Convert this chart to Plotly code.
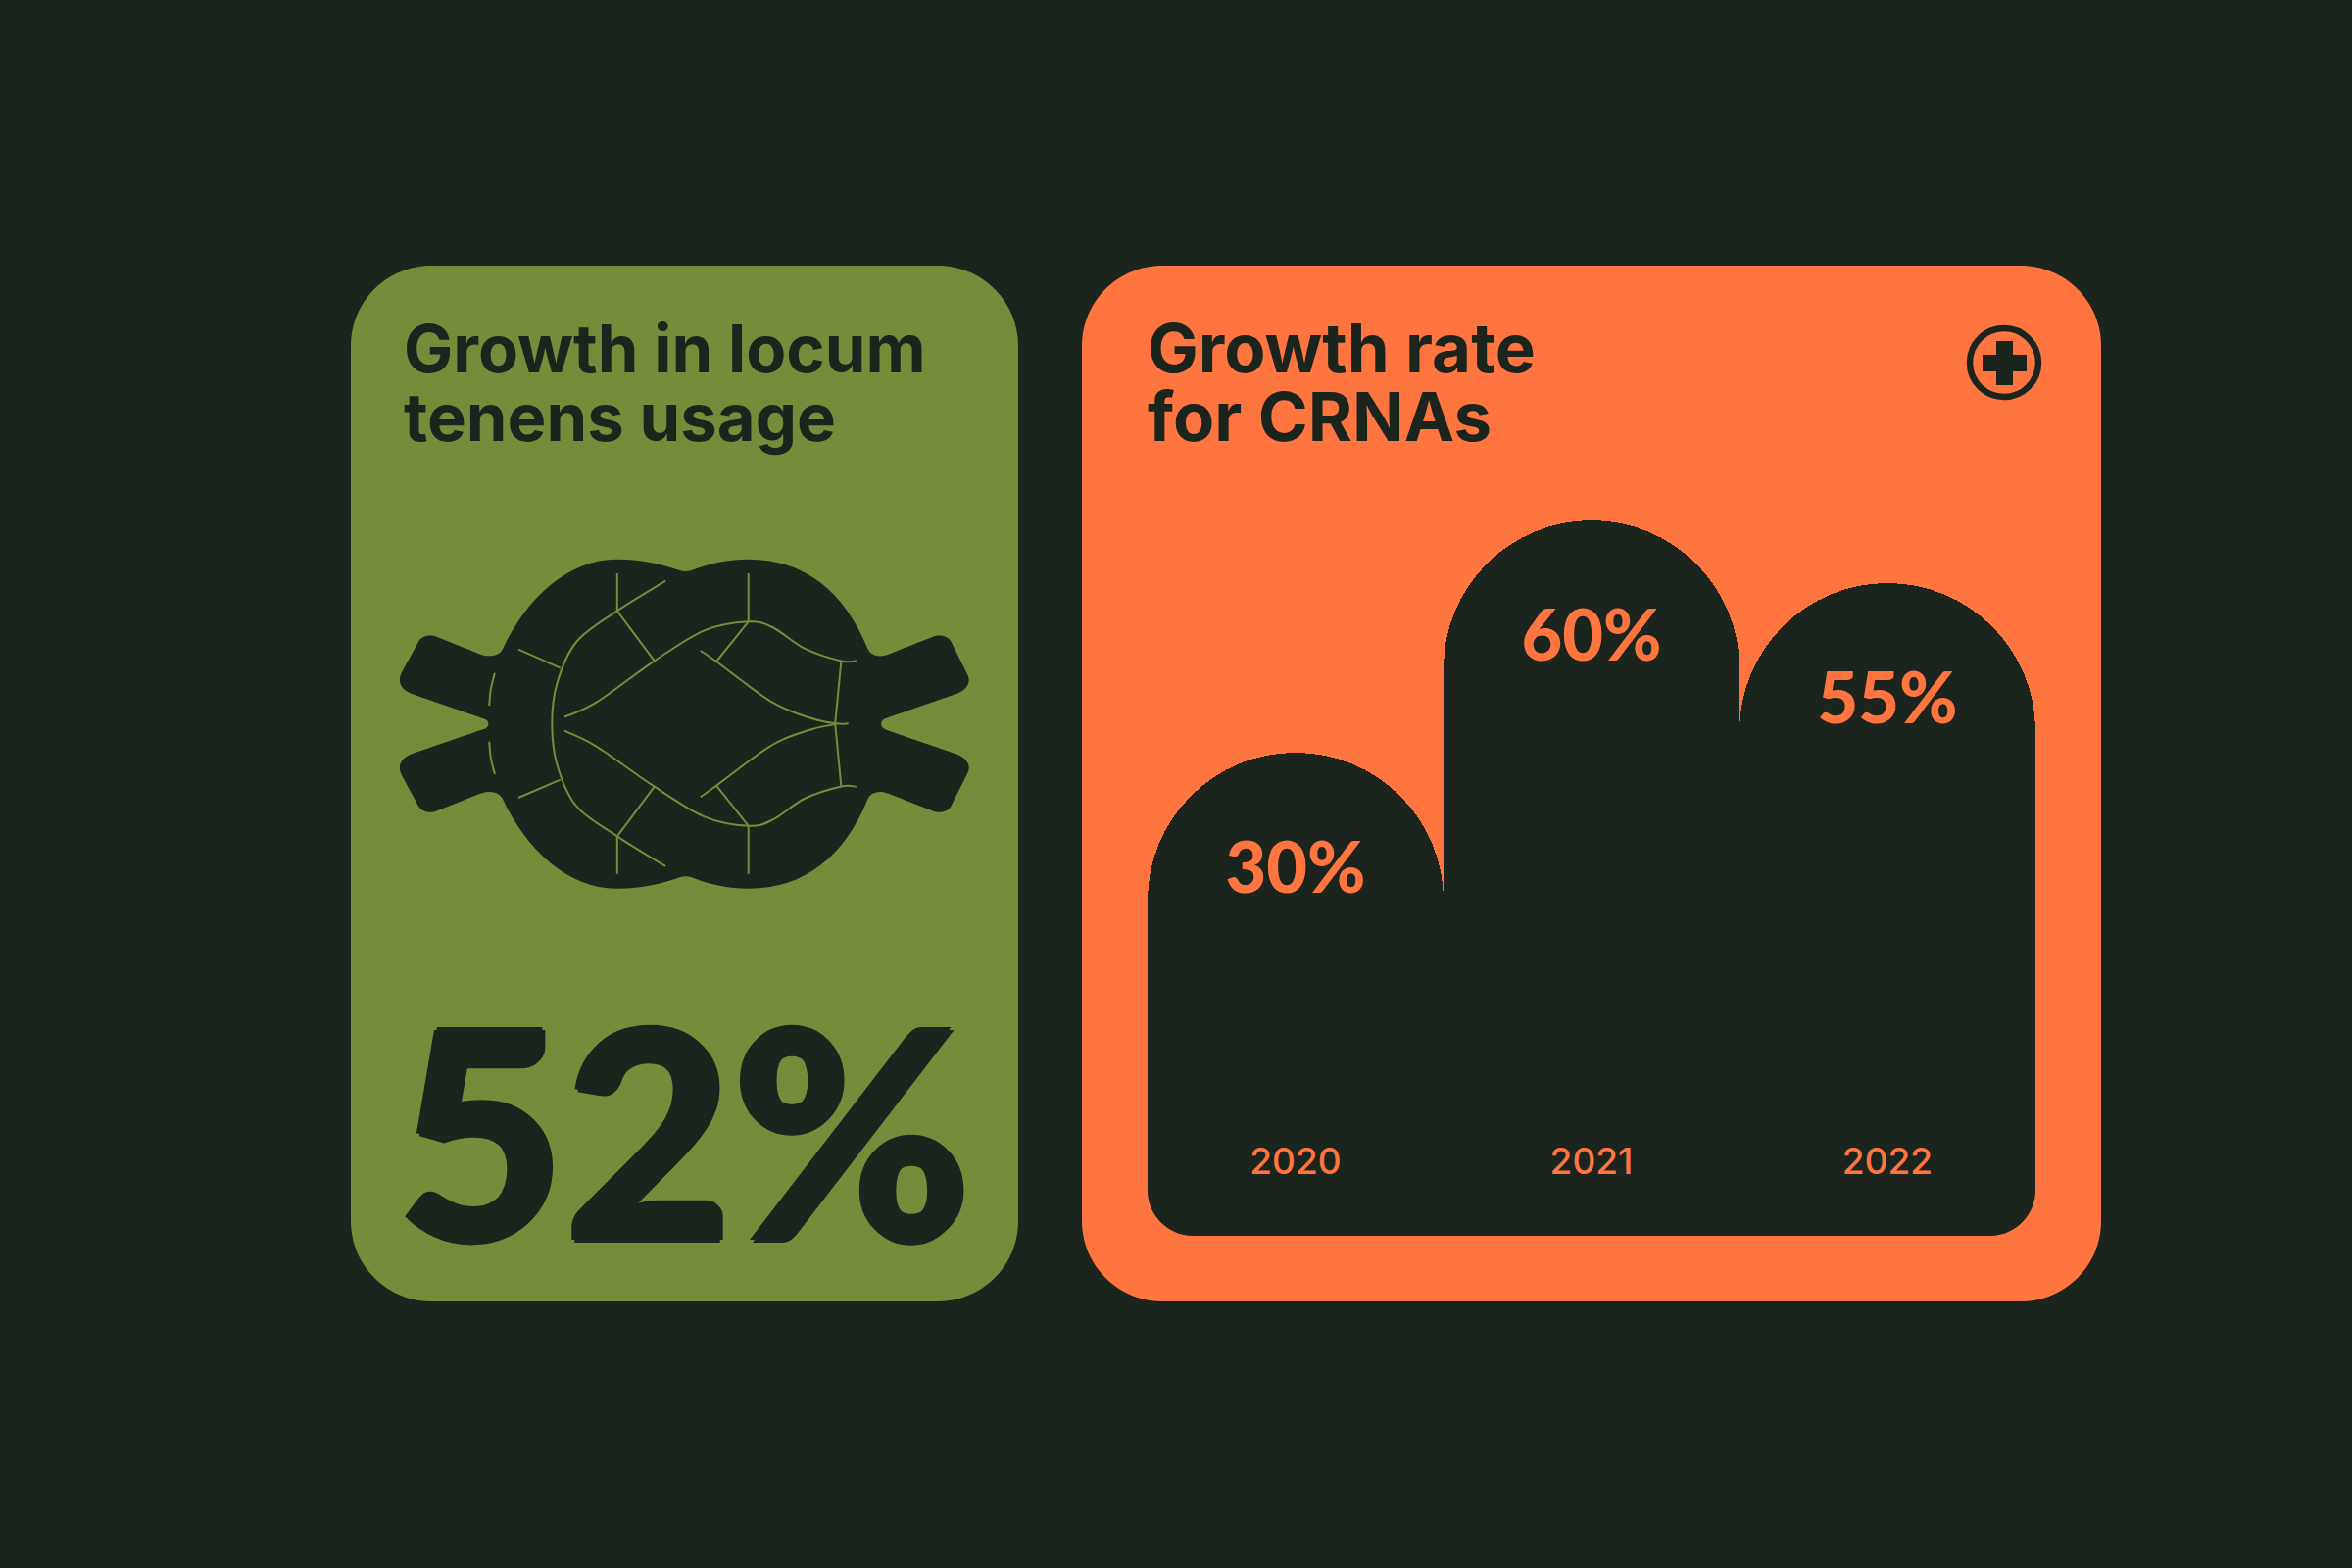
import plotly.graph_objects as go

BG = '#1C251D'
GREEN = '#768C3B'
ORANGE = '#FF7540'
TITLE_FONT = 'Inter'
NUMBER_FONT = 'Lato'

years = ['2020', '2021', '2022']
crna_labels = ['30%', '60%', '55%']
# the domes in the picture are not proportional to their labels, so these are
# the heights as drawn
bar_heights = [493, 730, 666]
locum_growth = '52%'
left_title = ['Growth in locum', 'tenens usage']
right_title = ['Growth rate', 'for CRNAs']

# knot outline and lines were traced on a 640x400 crop at (380,540), 2.45 / 3 scale
def kx(x):
    return 380 + x / 2.45

def ky(y):
    return 540 + y / 3

def smooth(points):
    # catmull-rom through the points, as an svg path
    pts = [(kx(x), ky(y)) for x, y in points]
    n = len(pts)
    path = 'M %.1f,%.1f' % pts[0]
    for i in range(n - 1):
        p0, p1, p2, p3 = pts[max(i - 1, 0)], pts[i], pts[i + 1], pts[min(i + 2, n - 1)]
        c1 = (p1[0] + (p2[0] - p0[0]) / 6, p1[1] + (p2[1] - p0[1]) / 6)
        c2 = (p2[0] - (p3[0] - p1[0]) / 6, p2[1] - (p3[1] - p1[1]) / 6)
        path += ' C %.1f,%.1f %.1f,%.1f %.1f,%.1f' % (c1 + c2 + p2)
    return path

def round_rect(x0, y0, x1, y1, r):
    k = r * 0.448  # control point offset for a circular corner
    return ('M %d,%d H %d C %.1f,%d %d,%.1f %d,%d V %d C %d,%.1f %.1f,%d %d,%d H %d C %.1f,%d %d,%.1f %d,%d V %d C %d,%.1f %.1f,%d %d,%d Z'
            % (x0 + r, y0, x1 - r, x1 - k, y0, x1, y0 + k, x1, y0 + r,
               y1 - r, x1, y1 - k, x1 - k, y1, x1 - r, y1,
               x0 + r, x0 + k, y1, x0, y1 - k, x0, y1 - r,
               y0 + r, x0, y0 + k, x0 + k, y0, x0 + r, y0))

# top half of the knot, left waist to right waist; each step is c1, c2, end.
# the bottom half is the same thing mirrored
knot_start = (290, 596)
knot_top = [
    ((290, 588), (286, 583), (278, 580)),
    ((278, 580), (100, 505), (100, 505)),
    ((72, 493), (62, 468), (72, 442)),
    ((72, 442), (115, 345), (115, 345)),
    ((122, 328), (142, 320), (162, 330)),
    ((162, 330), (270, 383), (270, 383)),
    ((290, 392), (315, 390), (325, 368)),
    ((385, 210), (490, 92), (610, 92)),
    ((680, 92), (730, 110), (770, 127)),
    ((778, 130), (788, 130), (796, 127)),
    ((840, 105), (890, 92), (940, 92)),
    ((1080, 92), (1180, 190), (1238, 365)),
    ((1245, 385), (1265, 395), (1290, 383)),
    ((1290, 383), (1400, 330), (1400, 330)),
    ((1420, 320), (1440, 328), (1447, 345)),
    ((1447, 345), (1488, 445), (1488, 445)),
    ((1498, 470), (1485, 492), (1462, 503)),
    ((1462, 503), (1285, 578), (1285, 578)),
    ((1276, 582), (1272, 588), (1272, 596)),
]

def knot_path():
    def pt(p):
        return '%.1f,%.1f' % (kx(p[0]), ky(p[1]))
    def flip(p):
        return (p[0], 1192 - p[1])
    path = 'M ' + pt(knot_start)
    for c1, c2, end in knot_top:
        path += ' C %s %s %s' % (pt(c1), pt(c2), pt(end))
    ends = [knot_start] + [s[2] for s in knot_top]
    for i in range(len(knot_top) - 1, -1, -1):
        c1, c2, end = knot_top[i]
        path += ' C %s %s %s' % (pt(flip(c2)), pt(flip(c1)), pt(flip(ends[i])))
    return path + ' Z'

knot_curves = [
    [(733, 158), (612, 250), (510, 345), (462, 470), (449, 595), (462, 722), (510, 848), (612, 940), (733, 1032)],
    [(480, 575), (560, 530), (705, 403), (830, 310), (940, 283), (1000, 300), (1080, 365), (1170, 403), (1210, 403)],
    [(480, 617), (560, 665), (705, 788), (830, 880), (940, 908), (1000, 890), (1080, 825), (1170, 788), (1210, 788)],
    [(820, 372), (860, 405), (1000, 530), (1100, 580), (1160, 595), (1190, 595)],
    [(820, 820), (860, 785), (1000, 660), (1100, 612), (1160, 597)],
    [(306, 440), (296, 490), (292, 540)],
    [(292, 650), (296, 700), (306, 750)],
]
knot_straight = [
    [(612, 135), (612, 250), (705, 403)],
    [(940, 135), (940, 283), (860, 405)],
    [(365, 368), (470, 425)],
    [(1172, 403), (1157, 595), (1172, 788)],
    [(365, 822), (470, 767)],
    [(612, 1055), (612, 940), (705, 788)],
    [(940, 1055), (940, 908), (860, 785)],
]

shapes = [
    dict(type='path', path=round_rect(358, 271, 1039, 1328, 82), fillcolor=GREEN, line_width=0, layer='below'),
    dict(type='path', path=round_rect(1104, 271, 2144, 1328, 82), fillcolor=ORANGE, line_width=0, layer='below'),
    dict(type='path', path=knot_path(), fillcolor=BG, line_width=0, layer='below'),
]
for curve in knot_curves:
    shapes.append(dict(type='path', path=smooth(curve), line=dict(color=GREEN, width=2), layer='below'))
for seg in knot_straight:
    path = 'M ' + ' L '.join('%.1f,%.1f' % (kx(x), ky(y)) for x, y in seg)
    shapes.append(dict(type='path', path=path, line=dict(color=GREEN, width=2), layer='below'))

# plus icon
shapes.append(dict(type='circle', x0=2010, x1=2080, y0=335, y1=405, line=dict(color=BG, width=6.5), layer='below'))
shapes.append(dict(type='path', layer='below', fillcolor=BG, line_width=0,
                   path='M 2037,348 H 2054 V 362 H 2068 V 379 H 2054 V 393 H 2037 V 379 H 2023 V 362 H 2037 Z'))
# bottom corners of the dark panel
shapes.append(dict(type='path', fillcolor=ORANGE, line_width=0, layer='above',
                   path='M 1169,1215 L 1171,1215 C 1171,1240 1192,1261 1217,1261 V 1263 H 1169 Z'))
shapes.append(dict(type='path', fillcolor=ORANGE, line_width=0, layer='above',
                   path='M 2079,1215 L 2077,1215 C 2077,1240 2056,1261 2031,1261 V 1263 H 2079 Z'))

fig = go.Figure()
fig.add_trace(go.Bar(x=years, y=bar_heights, xaxis='x2', yaxis='y2', width=1,
                     marker=dict(color=BG, cornerradius=151, line=dict(width=0))))
fig.add_trace(go.Scatter(x=years, y=[h - 125 for h in bar_heights], xaxis='x2', yaxis='y2',
                         mode='text', text=crna_labels, cliponaxis=False,
                         textfont=dict(family=NUMBER_FONT, size=72, color=ORANGE, weight=900)))

annotations = []
def add_text(text, x, y, size, family=TITLE_FONT, weight=700, shadow='none'):
    annotations.append(dict(text=text, x=x, y=y, xref='x', yref='y', xanchor='left', yanchor='middle',
                            showarrow=False,
                            font=dict(family=family, size=size, color=BG, weight=weight, shadow=shadow)))

# the reference type is heavier than anything installed, a hard shadow fattens it up
add_text(left_title[0], 410, 355, 67)
add_text(left_title[1], 410, 425, 67)
add_text(right_title[0], 1169, 355, 69)
add_text(right_title[1], 1169, 425, 69)
add_text(locum_growth, 403, 1151, 295, NUMBER_FONT, 900,
         shadow='3px 0 0 {0}, -3px 0 0 {0}, 0 3px 0 {0}, 0 -3px 0 {0}'.format(BG))

fig.update_layout(
    width=2400, height=1600, margin=dict(l=0, r=0, t=0, b=0),
    paper_bgcolor=BG, plot_bgcolor='rgba(0,0,0,0)',
    showlegend=False, bargap=0,
    shapes=shapes, annotations=annotations,
    xaxis=dict(range=[0, 2400], domain=[0, 1], visible=False),
    yaxis=dict(range=[1600, 0], domain=[0, 1], visible=False),
    xaxis2=dict(domain=[1171 / 2400, 2077 / 2400], anchor='y2', type='category', range=[-0.5, 2.5],
                showgrid=False, zeroline=False, showline=False, ticks='',
                ticklabelposition='inside', ticklabelstandoff=53,
                tickfont=dict(family=TITLE_FONT, size=37, color=ORANGE, weight=500)),
    yaxis2=dict(domain=[(1600 - 1261) / 1600, (1600 - 271) / 1600], anchor='x2', range=[0, 990],
                visible=False),
)

fig.write_html("out.html", config=dict(displayModeBar=False),
               post_script="document.body.style.margin='0';document.body.style.background='%s';" % BG)
